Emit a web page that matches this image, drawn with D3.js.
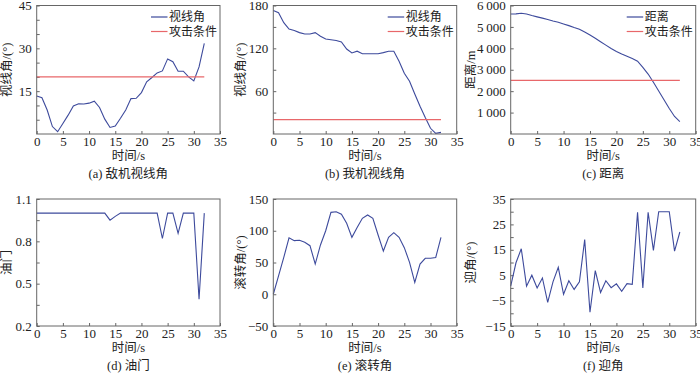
<!DOCTYPE html>
<html>
<head>
<meta charset="utf-8">
<script src="https://cdn.jsdelivr.net/npm/d3@7"></script>
<style>
  html, body { margin: 0; padding: 0; background: #fff; }
  svg text { font-family: "Liberation Serif", "Noto Sans CJK SC", serif; fill: #222; }
</style>
</head>
<body>
<svg id="chart" width="700" height="373"></svg>
<script>
// time axis, one sample per second
const time = [0, 1, 2, 3, 4, 5, 6, 7, 8, 9, 10, 11, 12, 13, 14, 15, 16,
  17, 18, 19, 20, 21, 22, 23, 24, 25, 26, 27, 28, 29, 30, 31, 32];

const enemyLos = [13.3, 12.7, 8.4, 2.6, 0.8, 3.7, 6.6, 9.8, 10.6, 10.5, 10.8, 11.5,
  9.3, 5.2, 2.3, 2.8, 5.5, 8.4, 12.4, 12.5, 14.5, 18.3, 19.8, 21.4, 22.1, 26.3,
  25.3, 22.0, 22.0, 20.0, 18.6, 23.5, 31.7];
const ownLos = [173, 170, 156, 147, 145, 142, 140, 140, 142, 137, 133, 132, 131,
  129, 119, 113.5, 116, 112.5, 112.5, 112.5, 112.5, 114, 116, 116, 102, 85, 74,
  56, 39, 23, 8, 1, 2.3];
const distance = [5600, 5610, 5640, 5600, 5530, 5470, 5410, 5350, 5280, 5220,
  5140, 5060, 4970, 4890, 4760, 4620, 4470, 4310, 4150, 3990, 3850, 3730, 3630,
  3520, 3400, 3110, 2800, 2420, 2010, 1600, 1190, 820, 580];
const throttle = [1, 1, 1, 1, 1, 1, 1, 1, 1, 1, 1, 1, 1, 1, 0.95, 0.977, 1, 1, 1,
  1, 1, 1, 1, 1, 0.82, 1, 1, 0.857, 1, 1, 1, 0.39, 1];
const roll = [0, 29, 58, 89, 84.4, 85, 82, 76.5, 47.6, 77.6, 100, 129, 130, 126,
  111.7, 89.6, 105, 119.6, 124.8, 119.6, 93.3, 68, 89.6, 97, 89.6, 73.4, 50.3,
  18.8, 47.6, 56.6, 56.6, 58, 89.6];
const aoa = [0.7, 9.9, 15.4, 0.7, 5, 0, 3.9, -5.7, 2.4, 8.1, -2.5, 2.8, -0.6,
  2.4, 19, -9.6, 6.8, -1.8, 2.8, 0.1, 1.6, -1.3, 1.7, 1.4, 29.8, 0, 29.8, 14.8,
  30, 30, 30, 14.5, 22];

// attack condition thresholds (held constant over the run)
const attackTime = [0, 32];
const attackAngle = [20, 20];
const attackDist = [2500, 2500];

const xTicks = [0, 5, 10, 15, 20, 25, 30, 35];

const panels = [
  { col: 0, row: 0, series: enemyLos, attack: attackAngle, yDomain: [0, 45],
    major: [15, 30, 45], minor: [5, 10, 20, 25, 35, 40], fmt: d => d,
    ylabel: "视线角/(°)", caption: "(a) 敌机视线角", legend: "视线角" },
  { col: 1, row: 0, series: ownLos, attack: attackAngle, yDomain: [0, 180],
    major: [60, 120, 180], minor: [30, 90, 150], fmt: d => d,
    ylabel: "视线角/(°)", caption: "(b) 我机视线角", legend: "视线角" },
  { col: 2, row: 0, series: distance, attack: attackDist, yDomain: [0, 6000],
    major: [1000, 2000, 3000, 4000, 5000, 6000], minor: [],
    fmt: d => String(d / 1000) + "\u2009000",
    ylabel: "距离/m", caption: "(c) 距离", legend: "距离" },
  { col: 0, row: 1, series: throttle, yDomain: [0.2, 1.1],
    major: [0.2, 0.5, 0.8, 1.1], minor: [0.35, 0.65, 0.95], fmt: d3.format(".1f"),
    ylabel: "油门", caption: "(d) 油门" },
  { col: 1, row: 1, series: roll, yDomain: [-50, 150],
    major: [-50, 0, 50, 100, 150], minor: [], fmt: d => String(d).replace("-", "\u2212"),
    ylabel: "滚转角/(°)", caption: "(e) 滚转角" },
  { col: 2, row: 1, series: aoa, yDomain: [-15, 35],
    major: [-15, -5, 5, 15, 25, 35], minor: [-10, 0, 10, 20, 30],
    fmt: d => String(d).replace("-", "\u2212"),
    ylabel: "迎角/(°)", caption: "(f) 迎角" },
];

const colLeft = [36.7, 273.3, 510.7];
const colRight = [220, 456.7, 695.7];
const rowTop = [5.5, 199];
const rowBottom = [134, 326];
const ylabelX = [7, 241, 471];

const blue = "#3d4a9c", red = "#e8676a", frame = "#666";

const svg = d3.select("#chart");

panels.forEach(p => {
  const L = colLeft[p.col], R = colRight[p.col];
  const T = rowTop[p.row], B = rowBottom[p.row];
  const x = d3.scaleLinear().domain([0, 35]).range([L, R]);
  const y = d3.scaleLinear().domain(p.yDomain).range([B, T]);
  const g = svg.append("g");

  // x axis ticks (inward) + labels
  const xa = g.append("g").attr("transform", `translate(0,${B})`)
    .call(d3.axisBottom(x).tickValues(xTicks).tickSize(-3).tickPadding(3));
  xa.select(".domain").remove();
  xa.selectAll("line").attr("stroke", frame);
  xa.selectAll("text").attr("font-size", 13).attr("fill", "#222");

  const ya = g.append("g").attr("transform", `translate(${L},0)`)
    .call(d3.axisLeft(y).tickValues(p.major).tickFormat(p.fmt).tickSize(-3).tickPadding(5));
  ya.select(".domain").remove();
  ya.selectAll("line").attr("stroke", frame);
  ya.selectAll("text").attr("font-size", 13).attr("fill", "#222");

  if (p.minor.length) {
    const ym = g.append("g").attr("transform", `translate(${L},0)`)
      .call(d3.axisLeft(y).tickValues(p.minor).tickFormat("").tickSize(-3));
    ym.select(".domain").remove();
    ym.selectAll("line").attr("stroke", frame);
  }

  const line = d3.line().x((d, i) => x(time[i])).y(d => y(d));
  g.append("path").datum(p.series)
    .attr("fill", "none").attr("stroke", blue).attr("stroke-width", 1.1)
    .attr("d", line);

  if (p.attack) {
    g.append("path").datum(p.attack)
      .attr("fill", "none").attr("stroke", red).attr("stroke-width", 1.3)
      .attr("d", d3.line().x((d, i) => x(attackTime[i])).y(d => y(d)));

    const lx = R - 69;
    [[p.legend, blue, T + 11.5], ["攻击条件", red, T + 26]].forEach(([txt, c, ly]) => {
      g.append("line").attr("x1", lx).attr("x2", lx + 16.5)
        .attr("y1", ly).attr("y2", ly).attr("stroke", c).attr("stroke-width", 1.2);
      g.append("text").attr("x", lx + 18).attr("y", ly).attr("dy", "0.35em")
        .attr("font-size", 12).text(txt);
    });
  }

  g.append("rect").attr("x", L).attr("y", T).attr("width", R - L).attr("height", B - T)
    .attr("fill", "none").attr("stroke", frame).attr("stroke-width", 1);

  g.append("text").attr("x", (L + R) / 2).attr("y", B + 26)
    .attr("text-anchor", "middle").attr("font-size", 12.5).text("时间/s");
  g.append("text").attr("x", (L + R) / 2).attr("y", B + 44)
    .attr("text-anchor", "middle").attr("font-size", 12.5).text(p.caption);

  g.append("text")
    .attr("transform", `translate(${ylabelX[p.col]},${(T + B) / 2}) rotate(-90)`)
    .attr("text-anchor", "middle").attr("dy", "0.35em")
    .attr("font-size", 12.5).text(p.ylabel);
});
</script>
</body>
</html>
